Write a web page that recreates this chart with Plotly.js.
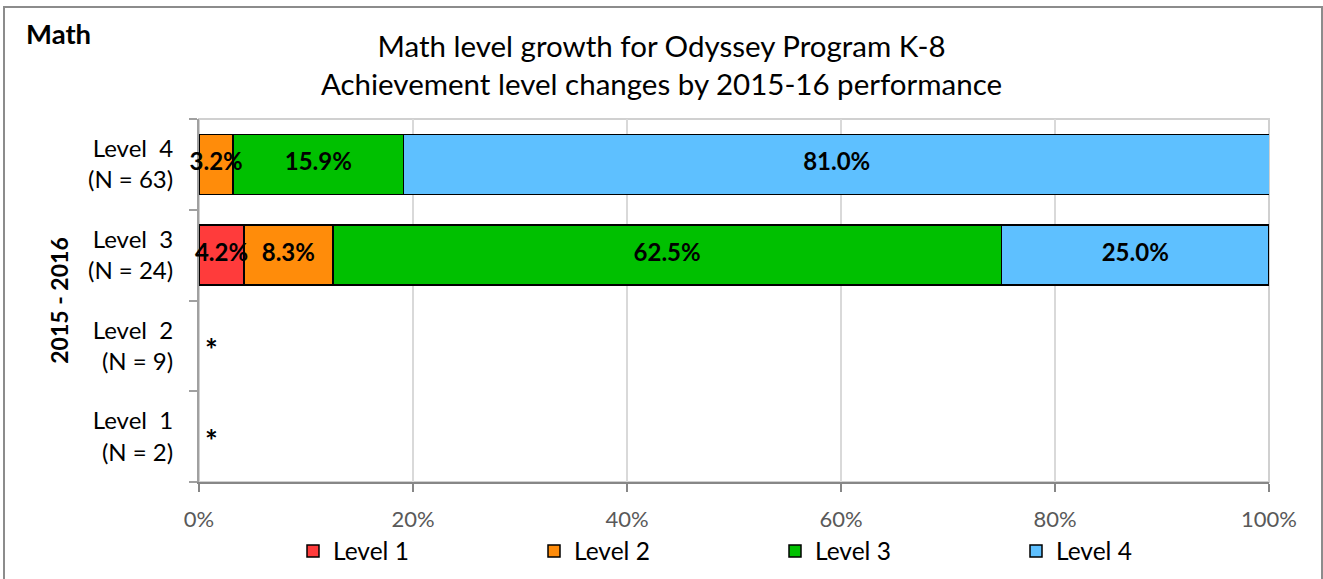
<!DOCTYPE html>
<html>
<head>
<meta charset="utf-8">
<script src="https://cdn.plot.ly/plotly-3.0.1.min.js"></script>
<style>
  html, body { margin: 0; padding: 0; background: #ffffff; }
  #chart { width: 1323px; height: 579px; }
</style>
</head>
<body>
<div id="chart"></div>
<script>
// ---- Data ----
const categories = [
  'Level\u00a0\u00a01<br>(N = 2)',
  'Level\u00a0\u00a02<br>(N = 9)',
  'Level\u00a0\u00a03<br>(N = 24)',
  'Level\u00a0\u00a04<br>(N = 63)'
];
const seriesNames = ['Level 1', 'Level 2', 'Level 3', 'Level 4'];
const level1 = [null, null, 4.2, null];
const level2 = [null, null, 8.3, 3.2];
const level3 = [null, null, 62.5, 15.9];
const level4 = [null, null, 25.0, 81.0];
const suppressed = ['*', '*', '', ''];
const xTickValues = [0, 20, 40, 60, 80, 100];
const xTickLabels = ['0%', '20%', '40%', '60%', '80%', '100%'];
const titleLines = ['Math level growth for Odyssey Program K-8',
                    'Achievement level changes by 2015-16 performance'];
const yAxisTitle = '2015 - 2016';
const cornerLabel = 'Math';

// ---- Styles ----
const colors = ['#FF3B3B', '#FF8C0A', '#00C000', '#5EC0FF'];
const FONT = 'Lato, "Open Sans", "DejaVu Sans", sans-serif';

const seriesValues = [level1, level2, level3, level4];
const traces = seriesValues.map((vals, i) => ({
  type: 'bar',
  orientation: 'h',
  name: seriesNames[i],
  y: categories,
  x: vals,
  marker: { color: colors[i], line: { color: '#000000', width: 1.5 } },
  hoverinfo: 'skip'
}));

// Segment labels placed at the middle of each stacked segment (from the data)
const labX = [], labY = [], labT = [];
categories.forEach((c, j) => {
  let acc = 0;
  seriesValues.forEach(vals => {
    const v = vals[j];
    if (v !== null && v !== undefined) {
      labX.push(acc + v / 2);
      labY.push(c);
      labT.push('<b>' + v.toFixed(1) + '%</b>');
      acc += v;
    }
  });
});
traces.push({
  type: 'scatter', mode: 'text',
  x: labX, y: labY, text: labT,
  textposition: 'middle center',
  textfont: { family: FONT, size: 24, color: '#000000' },
  cliponaxis: false, showlegend: false, hoverinfo: 'skip'
});

const W = 1323, H = 579;
const L = 199, R = 54, T = 119, B = 97;
const pw = W - L - R, ph = H - T - B;
const px = x => (x - L) / pw;
const py = y => (H - B - y) / ph;

const annotations = [];
suppressed.forEach((s, i) => {
  if (s) annotations.push({
    xref: 'x', yref: 'y', x: 0, y: categories[i],
    text: '<b>' + s + '</b>', showarrow: false,
    xanchor: 'left', yanchor: 'middle', xshift: 4, yshift: -3,
    font: { family: FONT, size: 30, color: '#000000' }
  });
});
annotations.push({
  xref: 'paper', yref: 'paper', x: px(24), y: py(34),
  xanchor: 'left', yanchor: 'middle', showarrow: false,
  text: '<b>' + cornerLabel + '</b>',
  font: { family: FONT, size: 27.5, color: '#000000' }
});

const layout = {
  width: W, height: H,
  margin: { l: L, r: R, t: T, b: B, pad: 0, autoexpand: false },
  paper_bgcolor: '#ffffff',
  plot_bgcolor: '#ffffff',
  barmode: 'stack',
  bargap: 0.34,
  font: { family: FONT, color: '#000000' },
  title: {
    text: titleLines.join('<br>'),
    x: 0.5, xref: 'container', xanchor: 'center',
    y: 1 - 57 / H, yref: 'container', yanchor: 'middle',
    font: { family: FONT, size: 29.5, color: '#000000' }
  },
  xaxis: {
    range: [0, 100],
    tickvals: xTickValues,
    ticktext: xTickLabels,
    showgrid: true, gridcolor: '#d9d9d9', gridwidth: 1.5,
    zeroline: false,
    showline: true, linecolor: '#878787', linewidth: 2,
    ticks: 'outside', ticklen: 8, tickcolor: '#878787', tickwidth: 2,
    ticklabelstandoff: 9,
    tickfont: { family: FONT, size: 22, color: '#595959' },
    fixedrange: true
  },
  yaxis: {
    type: 'category',
    categoryorder: 'array', categoryarray: categories,
    range: [-0.5, 3.5],
    showgrid: false, zeroline: false,
    showline: true, linecolor: '#a0a0a0', linewidth: 2,
    layer: 'below traces',
    ticks: 'outside', tickson: 'boundaries', ticklen: 8, tickcolor: '#a0a0a0', tickwidth: 2,
    ticklabelstandoff: 19,
    tickfont: { family: FONT, size: 24, color: '#000000' },
    title: { text: '<b>' + yAxisTitle + '</b>', font: { family: FONT, size: 23, color: '#000000' }, standoff: 13 },
    fixedrange: true
  },
  legend: {
    orientation: 'h',
    x: px(293), xanchor: 'left',
    y: py(551), yanchor: 'middle',
    entrywidth: 196, entrywidthmode: 'pixels',
    itemwidth: 30,
    traceorder: 'normal',
    font: { family: FONT, size: 24.5, color: '#000000' },
    bgcolor: 'rgba(0,0,0,0)'
  },
  annotations: annotations,
  shapes: [
    { type: 'rect', xref: 'paper', yref: 'paper', x0: 0, x1: 1, y0: 0, y1: 1,
      line: { color: '#d0d0d0', width: 2 }, layer: 'below' },
    { type: 'rect', xref: 'paper', yref: 'paper', x0: px(4), x1: px(1322), y0: py(590), y1: py(7),
      line: { color: '#8c8c8c', width: 2 }, layer: 'above' }
  ],
  showlegend: true
};

Plotly.newPlot('chart', traces, layout, { displayModeBar: false, staticPlot: true });
</script>
</body>
</html>
